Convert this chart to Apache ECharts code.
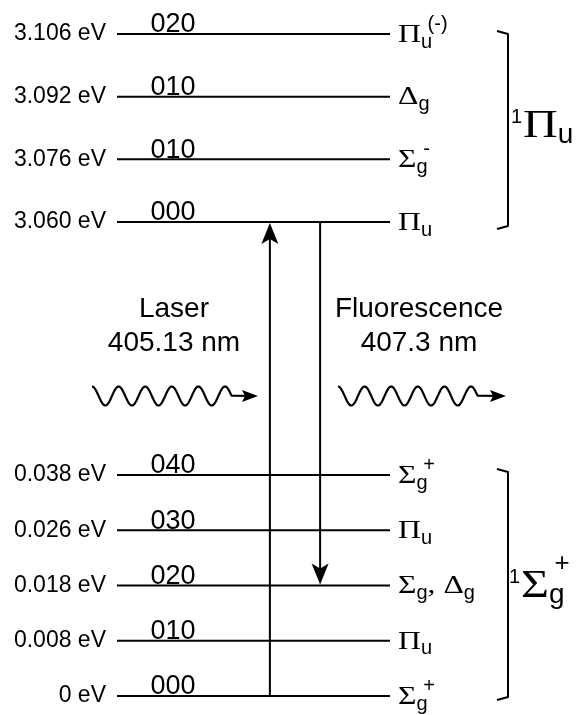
<!DOCTYPE html>
<html>
<head>
<meta charset="utf-8">
<script src="https://cdn.jsdelivr.net/npm/echarts@6/dist/echarts.min.js"></script>
<style>
  html, body { margin: 0; padding: 0; background: #fff; }
  #chart { width: 579px; height: 715px; }
</style>
</head>
<body>
<div id="chart"></div>
<script>
// Upper electronic state (¹Πu): vibronic levels, bottom to top
const upperEnergies = [3.060, 3.076, 3.092, 3.106];
const upperQuanta = ['000', '010', '010', '020'];
const upperSymmetry = ['Π_u', 'Σ_g^-', 'Δ_g', 'Π_u^(-)'];
const upperState = '^1Π_u';

// Lower electronic state (¹Σg+): vibronic levels, bottom to top
const lowerEnergies = [0, 0.008, 0.018, 0.026, 0.038];
const lowerQuanta = ['000', '010', '020', '030', '040'];
const lowerSymmetry = ['Σ_g^+', 'Π_u', 'Σ_g, Δ_g', 'Π_u', 'Σ_g^+'];
const lowerState = '^1Σ_g^+';

// Transitions between the two states (state, level index)
const laserLabel = ['Laser', '405.13 nm'];
const fluorLabel = ['Fluorescence', '407.3 nm'];
const laserTransition = { from: ['lower', 0], to: ['upper', 0] };
const fluorTransition = { from: ['upper', 0], to: ['lower', 2] };

const SANS = '"Liberation Sans", Arial, Helvetica, sans-serif';
const SERIF = '"Liberation Serif", "Times New Roman", serif';
const INK = '#000';

const energyLabel = e => (e === 0 ? '0' : e.toFixed(3)) + ' eV';

// horizontal layout along the level lines (x axis runs 0..100)
const VIB_X = 20.5;    // centre of the vibrational quantum label
const UP_X = 56.0;     // absorption arrow
const DOWN_X = 74.4;   // emission arrow

const measureCtx = document.createElement('canvas').getContext('2d');
function textWidth(text, font) {
  measureCtx.font = font;
  return measureCtx.measureText(text).width;
}

function txt(text, x, y, font, scaleX) {
  return {
    type: 'text', x: x, y: y, scaleX: scaleX || 1, silent: true,
    style: { text: text, font: font, fill: INK, align: 'left', verticalAlign: 'middle',
             textAlign: 'left', textVerticalAlign: 'middle' }
  };
}

// Term symbol such as "Σ_g^+" or "^1Π_u": Greek base, stacked sub/superscripts
function termSymbol(spec, x, y, sz) {
  const out = [];
  let cx = x;
  const re = /(?:\^(\d))?([^_^]+)(?:_([^_^,\s]+))?(?:\^(\(-\)|[+\-]))?/g;
  let m;
  while ((m = re.exec(spec))) {
    const pre = m[1], base = m[2], sub = m[3], sup = m[4];
    if (pre) {
      const f = sz.pre + 'px ' + SANS;
      out.push(txt(pre, cx, y + sz.preDy, f));
      cx += textWidth(pre, f) + sz.preGap;
    }
    const bf = sz.base + 'px ' + SERIF;
    out.push(txt(base, cx, y, bf, sz.scaleX));
    cx += textWidth(base, bf) * sz.scaleX + sz.gap;
    let adv = 0;
    if (sub) {
      const f = sz.sub + 'px ' + SANS;
      out.push(txt(sub, cx, y + sz.subDy, f));
      adv = textWidth(sub, f);
    }
    if (sup) {
      const f = sz.sup + 'px ' + SANS;
      const sx = cx + adv * sz.supShift;
      out.push(txt(sup, sx, y + sz.supDy, f));
      adv = Math.max(adv, sx - cx + textWidth(sup, f));
    }
    cx += adv;
  }
  return out;
}

const SMALL_TERM = { base: 26, scaleX: 1.22, gap: 0, sub: 20, subDy: 7, sup: 20, supDy: -11, supShift: 0.6,
                     pre: 16, preDy: -8, preGap: 2 };
const BIG_TERM = { base: 40, scaleX: 1.2, gap: 0, sub: 28, subDy: 9, sup: 26, supDy: -23, supShift: 0.35,
                   pre: 20, preDy: -9, preGap: 1 };

function levelSeries(gridIndex, quanta, symmetry) {
  return {
    type: 'custom',
    xAxisIndex: gridIndex,
    yAxisIndex: gridIndex,
    silent: true,
    clip: false,
    data: quanta.map((q, i) => [0, i]),
    encode: { x: 0, y: 1 },
    renderItem: function (params, api) {
      const i = params.dataIndex;
      const a = api.coord([0, i]);
      const b = api.coord([100, i]);
      const c = api.coord([VIB_X, i]);
      const children = [
        { type: 'line', shape: { x1: a[0], y1: a[1], x2: b[0], y2: b[1] },
          style: { stroke: INK, lineWidth: 2 } },
        { type: 'text', x: c[0], y: a[1] - 9,
          style: { text: quanta[i], font: '27px ' + SANS, fill: INK,
                   align: 'center', verticalAlign: 'middle', textAlign: 'center', textVerticalAlign: 'middle' } }
      ].concat(termSymbol(symmetry[i], b[0] + 8, a[1] + 1, SMALL_TERM));
      return { type: 'group', children: children };
    }
  };
}

function categoryAxis(gridIndex, energies) {
  return {
    type: 'category',
    gridIndex: gridIndex,
    boundaryGap: false,
    data: energies.map(energyLabel),
    axisLine: { show: false },
    axisTick: { show: false },
    splitLine: { show: false },
    axisLabel: { interval: 0, color: INK, fontSize: 23, fontFamily: SANS, margin: 11,
                 padding: [3, 0, 0, 0] }
  };
}

const chart = echarts.init(document.getElementById('chart'), null, { renderer: 'canvas' });

chart.setOption({
  backgroundColor: '#fff',
  animation: false,
  grid: [
    { left: 117, width: 273, top: 34, height: 188 },
    { left: 117, width: 273, top: 475, height: 221 }
  ],
  xAxis: [
    { type: 'value', gridIndex: 0, min: 0, max: 100, show: false },
    { type: 'value', gridIndex: 1, min: 0, max: 100, show: false }
  ],
  yAxis: [categoryAxis(0, upperEnergies), categoryAxis(1, lowerEnergies)],
  series: [
    levelSeries(0, upperQuanta, upperSymmetry),
    levelSeries(1, lowerQuanta, lowerSymmetry)
  ]
});

// ---- overlay: transition arrows, photons, state brackets ----
const GRID = { upper: 0, lower: 1 };
function levelPixel(ref, x) {
  return chart.convertToPixel({ gridIndex: GRID[ref[0]] }, [x, ref[1]]);
}

function arrowHead(tip, dir, len, wid, notch) {
  const dx = dir[0], dy = dir[1], nx = -dy, ny = dx;
  const bx = tip[0] - dx * len, by = tip[1] - dy * len;
  return {
    type: 'polygon', silent: true,
    shape: { points: [
      tip,
      [bx + nx * wid / 2, by + ny * wid / 2],
      [tip[0] - dx * (len - notch), tip[1] - dy * (len - notch)],
      [bx - nx * wid / 2, by - ny * wid / 2]
    ] },
    style: { fill: INK }
  };
}

function transitionArrow(tr, x) {
  const p0 = levelPixel(tr.from, x);
  const p1 = levelPixel(tr.to, x);
  const dir = p1[1] < p0[1] ? -1 : 1;
  const tip = [p1[0], p1[1] + (dir < 0 ? 1 : -1)];
  return [
    { type: 'line', silent: true, shape: { x1: p0[0], y1: p0[1], x2: tip[0], y2: tip[1] - dir * 12 },
      style: { stroke: INK, lineWidth: 2 } },
    arrowHead(tip, [0, dir], 21, 17, 5)
  ];
}

// photon: a wavy line ending in a small arrow
function photon(x0, x1, yc) {
  const period = 26.6, amp = 9.5, turns = 5.25;
  const xEnd = x0 + period * turns;
  const pts = [];
  for (let x = x0; x <= xEnd + 0.01; x += 0.5) {
    pts.push([x, yc - amp * Math.cos(2 * Math.PI * (x - x0) / period)]);
  }
  pts.push([x1 - 8, yc]);
  return [
    { type: 'polyline', silent: true, shape: { points: pts },
      style: { stroke: INK, lineWidth: 2.2, fill: null, lineJoin: 'round' } },
    arrowHead([x1, yc], [1, 0], 16, 12, 3)
  ];
}

function centredText(text, x, y, size) {
  return { type: 'text', x: x, y: y, silent: true,
    style: { text: text, font: size + 'px ' + SANS, fill: INK,
             align: 'center', verticalAlign: 'middle', textAlign: 'center', textVerticalAlign: 'middle' } };
}

function bracket(x, top, bottom) {
  return { type: 'polyline', silent: true,
    shape: { points: [[x - 11, top - 3], [x, top], [x, bottom], [x - 11, bottom + 3]] },
    style: { stroke: INK, lineWidth: 2, fill: null, lineJoin: 'round' } };
}

const upTop = levelPixel(['upper', upperEnergies.length - 1], 0)[1];
const upBottom = levelPixel(['upper', 0], 0)[1];
const loTop = levelPixel(['lower', lowerEnergies.length - 1], 0)[1];
const loBottom = levelPixel(['lower', 0], 0)[1];

const overlay = []
  .concat(transitionArrow(laserTransition, UP_X))
  .concat(transitionArrow(fluorTransition, DOWN_X))
  .concat([
    centredText(laserLabel[0], 174, 309, 28),
    centredText(laserLabel[1], 174, 343, 28),
    centredText(fluorLabel[0], 419, 309, 28),
    centredText(fluorLabel[1], 419, 343, 28)
  ])
  .concat(photon(92, 258, 396))
  .concat(photon(338, 506, 396))
  .concat([
    bracket(508, upTop, upBottom + 4),
    bracket(508, loTop - 3, loBottom + 1)
  ])
  .concat(termSymbol(upperState, 511, (upTop + upBottom) / 2 - 2, BIG_TERM))
  .concat(termSymbol(lowerState, 509, (loTop + loBottom) / 2 + 1, BIG_TERM));

chart.setOption({ graphic: { elements: overlay } });
</script>
</body>
</html>
